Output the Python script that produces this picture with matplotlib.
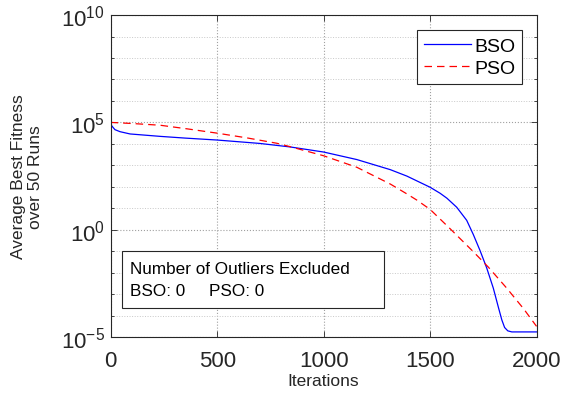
import matplotlib
matplotlib.use('Agg')
import matplotlib.pyplot as plt
from matplotlib.patches import Rectangle
from matplotlib.ticker import LogLocator, FixedLocator, NullFormatter

plt.rcParams['font.family'] = ['Liberation Sans', 'DejaVu Sans']
plt.rcParams['mathtext.default'] = 'regular'

# values
bso_iter = [0, 5, 20, 44, 91, 232, 350, 500, 700, 843, 1000, 1156, 1313, 1391,
            1500, 1547, 1579, 1625, 1672, 1703, 1735, 1766, 1797, 1821, 1837,
            1850, 1865, 1884, 2000]
bso_fit = [1e5, 6.9e4, 4.6e4, 3.7e4, 2.9e4, 2.24e4, 1.86e4, 1.51e4, 1.05e4,
           7.2e3, 4.17e3, 1.86e3, 631, 316, 95.5, 50.1, 29.5, 11.2, 2.75, 0.60,
           0.105, 0.0166, 1.9e-3, 2.4e-4, 6.3e-5, 2.8e-5, 1.95e-5, 1.74e-5,
           1.74e-5]

pso_iter = [0, 100, 232, 360, 500, 640, 780, 843, 1000, 1156, 1313, 1391, 1438,
            1500, 1594, 1703, 1774, 1860, 1939, 2000]
pso_fit = [1e5, 8.9e4, 7.4e4, 5.0e4, 3.16e4, 1.9e4, 1.07e4, 7.4e3, 2.8e3, 813,
           135, 46.8, 24, 8.9, 1.12, 0.095, 0.018, 1.9e-3, 2.1e-4, 3.16e-5]

x_ticks = [0, 500, 1000, 1500, 2000]
y_ticks = [1e-5, 1e0, 1e5, 1e10]
y_ticklabels = [r'$10^{-5}$', r'$10^{0}$', r'$10^{5}$', r'$10^{10}$']

fig = plt.figure(figsize=(5.63, 4.02), dpi=100)
ax = fig.add_axes([0.1966, 0.159, 0.7564, 0.801])

ax.plot(bso_iter, bso_fit, color='blue', lw=0.9, label='BSO')
ax.plot(pso_iter, pso_fit, color='red', lw=0.9, dashes=(6, 4), label='PSO')

ax.set_yscale('log')
ax.set_xlim(0, 2000)
ax.set_ylim(1e-5, 1e10)
ax.set_xticks(x_ticks)
ax.set_yticks(y_ticks)
ax.set_yticklabels(y_ticklabels)
ax.yaxis.set_minor_locator(LogLocator(base=10, subs=(1.0,), numticks=30))
ax.yaxis.set_minor_formatter(NullFormatter())
ax.xaxis.set_minor_locator(FixedLocator([]))

ax.tick_params(which='both', direction='in', top=True, right=True,
               colors='#262626', labelsize=16)
ax.tick_params(which='major', length=4, width=0.6)
ax.tick_params(which='minor', length=2.5, width=0.6)
ax.tick_params(axis='x', pad=9)
ax.tick_params(axis='y', pad=4)

ax.grid(True, which='major', linestyle=':', color='#a0a0a0', lw=0.8)
ax.grid(True, which='minor', axis='y', linestyle=':', color='#c8c8c8', lw=0.7)
for s in ax.spines.values():
    s.set_color('#262626')
    s.set_linewidth(0.8)

ax.set_xlabel('Iterations', fontsize=12.5, color='#262626', labelpad=2)
ax.set_ylabel('Average Best Fitness\nover 50 Runs', fontsize=12.5,
              color='#262626', labelpad=13)

leg = ax.legend(loc='upper right', bbox_to_anchor=(0.9667, 0.953),
                borderaxespad=0, fontsize=14, fancybox=False,
                framealpha=1, edgecolor='#262626', handlelength=2.4,
                handletextpad=0.2, borderpad=0.35, labelspacing=0.25)
leg.get_frame().set_linewidth(0.8)

ax.add_patch(Rectangle((0.0265, 0.090), 0.615, 0.177, transform=ax.transAxes,
                       facecolor='white', edgecolor='#262626', lw=0.8, zorder=5))
ax.text(0.045, 0.213, 'Number of Outliers Excluded', transform=ax.transAxes,
        fontsize=12.3, va='center', ha='left', zorder=6)
ax.text(0.045, 0.144, 'BSO: 0     PSO: 0', transform=ax.transAxes,
        fontsize=12.3, va='center', ha='left', zorder=6)

fig.savefig('out.png', dpi=100)
